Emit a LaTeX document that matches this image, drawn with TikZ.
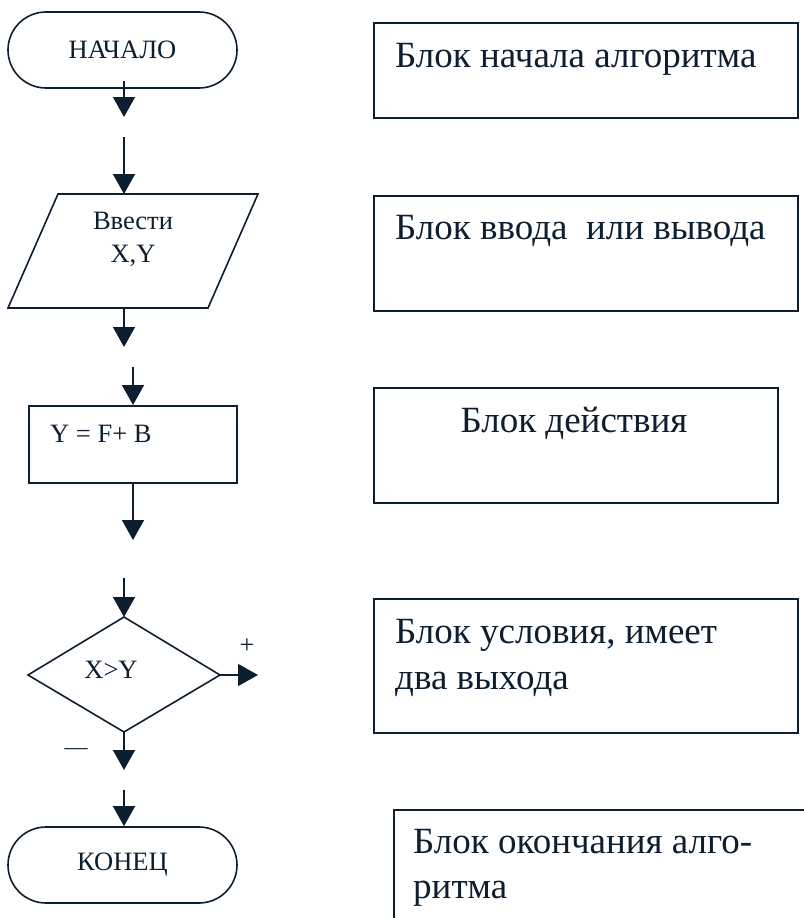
\documentclass[tikz,border=0pt]{standalone}
\usepackage{fontspec}
\setmainfont{Liberation Serif}
\usetikzlibrary{arrows.meta}
\definecolor{ink}{RGB}{12,30,48}
\begin{document}
\begin{tikzpicture}[x=1pt,y=-1pt,
  every node/.style={text=ink},
  line/.style={draw=ink, line width=1.6pt},
  small/.style={font=\fontsize{26.5}{33}\selectfont},
  big/.style={font=\fontsize{37}{46}\selectfont},
  sign/.style={font=\fontsize{26}{30}\selectfont, inner sep=0pt},
  term/.style={line, rounded corners=38pt,
    minimum width=229pt, minimum height=76pt, inner sep=0pt, small},
  box/.style={line, inner sep=0pt, anchor=north west},
  flow/.style={line, -{Triangle[width=22pt,length=20pt]}}]
\useasboundingbox (0,0) rectangle (803,918);

% ---- flowchart column ----
\node[term] (start) at (122.5,50) {НАЧАЛО};
\coordinate (a1) at (124,117);
\draw[flow] ([yshift=8pt]a1 |- start.south) -- (a1);

% input / output block
\coordinate (io1) at (58,194);
\coordinate (io2) at (258,194);
\coordinate (io3) at (208,308);
\coordinate (io4) at (8,308);
\draw[line] (io1) -- (io2) -- (io3) -- (io4) -- cycle;
\node[small, align=center, inner sep=0pt] (io) at (133,239) {Ввести\\X,Y};
\coordinate (a2) at (124,137);
\draw[flow] (a2) -- (a2 |- io1);
\coordinate (a3) at (124,347);
\draw[flow] (a3 |- io4) -- (a3);

% action block
\node[box, minimum width=208pt, minimum height=77pt] (act) at (28,405) {};
\node[small, anchor=base west, inner sep=0pt] (actt) at (50,442) {Y = F+ B};
\coordinate (a4) at (133,367);
\draw[flow] (a4) -- (a4 |- act.north);
\coordinate (a5) at (133,540);
\draw[flow] (a5 |- act.south) -- (a5);

% decision block
\coordinate (dt) at (124,617);
\coordinate (dr) at (220,675);
\coordinate (db) at (124,732);
\coordinate (dl) at (28,675);
\draw[line] (dt) -- (dr) -- (db) -- (dl) -- cycle;
\node[small, inner sep=0pt] (cond) at (111,670) {X>Y};
\coordinate (a6) at (124,578);
\draw[flow] (a6) -- (dt);
\coordinate (yes) at (258,675);
\draw[flow] (dr) -- (yes);
\node[sign] (plus) at (247,646) {+};
\coordinate (no) at (124,770);
\draw[flow] (db) -- (no);
\node[font=\fontsize{23}{26}\selectfont, inner sep=0pt] (minus) at (76,752) {—};

% end
\node[term] (stop) at (122.5,865) {КОНЕЦ};
\coordinate (a7) at (124,790);
\draw[flow] (a7) -- (stop.north -| a7);

% ---- descriptions ----
\node[box, minimum width=424pt, minimum height=95pt] (n1) at (373,22) {};
\node[big, anchor=base west, inner sep=0pt] (t1) at (395,67) {Блок начала алгоритма};

\node[box, minimum width=424pt, minimum height=115pt] (n2) at (373,195) {};
\node[big, anchor=base west, inner sep=0pt] (t2) at (395,239) {Блок ввода\ \ или вывода};

\node[box, minimum width=404pt, minimum height=115pt] (n3) at (373,387) {};
\node[big, anchor=base, inner sep=0pt] (t3) at (574,432) {Блок действия};

\node[box, minimum width=424pt, minimum height=134pt] (n4) at (373,598) {};
\node[big, anchor=base west, inner sep=0pt] (t4a) at (395,643) {Блок условия, имеет};
\node[big, anchor=base west, inner sep=0pt] (t4b) at (395,689) {два выхода};

\node[box, minimum width=440pt, minimum height=140pt] (n5) at (393,809) {};
\node[big, anchor=base west, inner sep=0pt] (t5a) at (413,853) {Блок окончания алго-};
\node[big, anchor=base west, inner sep=0pt] (t5b) at (413,898) {ритма};
\end{tikzpicture}
\end{document}
